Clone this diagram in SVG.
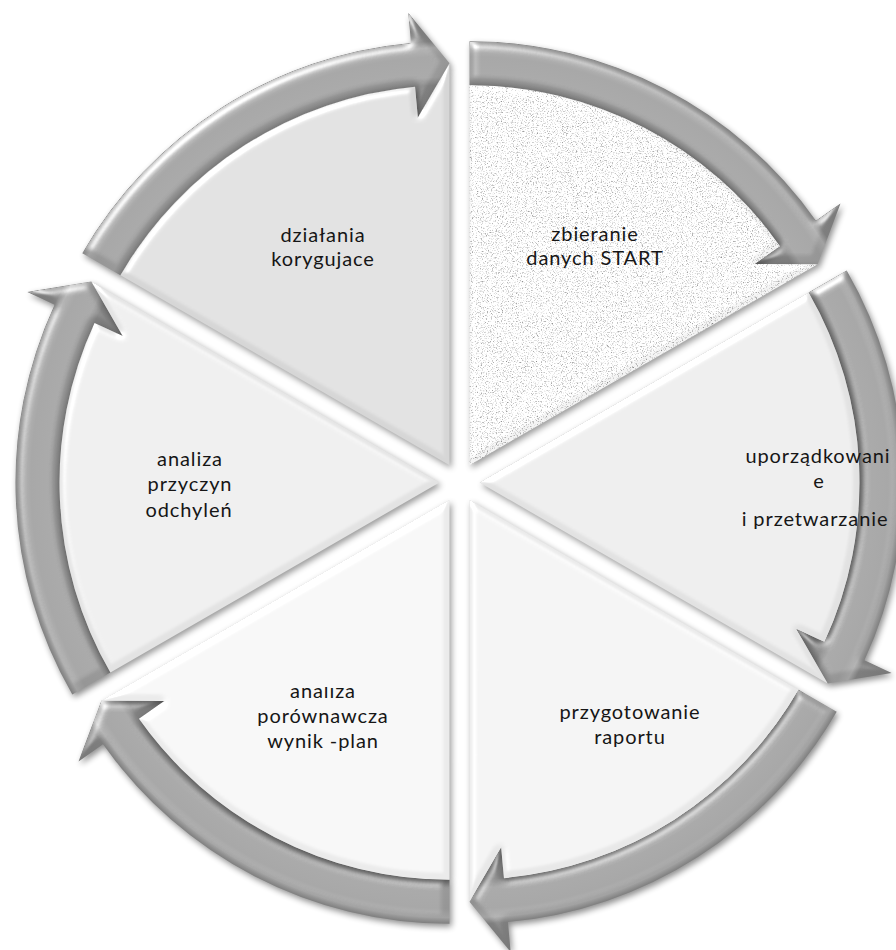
<svg xmlns="http://www.w3.org/2000/svg" xmlns:xlink="http://www.w3.org/1999/xlink" width="896" height="950" viewBox="0 0 896 950">
<style>
.t{font-family:Lato,"Liberation Sans",sans-serif;font-size:20px;letter-spacing:0.9px;fill:#161616;text-anchor:middle}
</style>
<defs>
<path id="wedge" d="M0 0 L329.09 -190 A380 380 0 0 1 344.96 159.39 L316.82 146.39 L348.14 201 Z"/>
<path id="arrow" d="M329.09 -190 L367.19 -212 A424 424 0 0 1 384.90 177.85 L412.13 190.43 L348.14 201 L316.82 146.39 L344.96 159.39 A380 380 0 0 0 329.09 -190 Z"/>
<radialGradient id="ag" gradientUnits="userSpaceOnUse" cx="0" cy="0" r="454">
<stop offset="0.76" stop-color="#7c7c7c"/>
<stop offset="0.837" stop-color="#7e7e7e"/>
<stop offset="0.855" stop-color="#999999"/>
<stop offset="0.9" stop-color="#969696"/>
<stop offset="0.92" stop-color="#a2a2a2"/>
<stop offset="0.934" stop-color="#7e7e7e"/>
<stop offset="1" stop-color="#787878"/>
</radialGradient>
<filter id="afx" x="-20%" y="-20%" width="140%" height="140%" color-interpolation-filters="sRGB">
<feGaussianBlur in="SourceAlpha" stdDeviation="4" result="blur"/>
<feSpecularLighting in="blur" surfaceScale="4" specularConstant="0.7" specularExponent="18" lighting-color="#ffffff" result="spec">
<feDistantLight azimuth="235" elevation="40"/>
</feSpecularLighting>
<feComposite in="spec" in2="SourceAlpha" operator="in" result="specIn"/>
<feComposite in="SourceGraphic" in2="specIn" operator="arithmetic" k1="0" k2="1" k3="0.6" k4="0" result="lit"/>
<feGaussianBlur in="SourceAlpha" stdDeviation="3" result="sb"/>
<feOffset in="sb" dx="2" dy="3" result="so"/>
<feComponentTransfer in="so" result="sh"><feFuncA type="linear" slope="0.45"/></feComponentTransfer>
<feMerge><feMergeNode in="sh"/><feMergeNode in="lit"/></feMerge>
</filter>
<filter id="wfx" x="-20%" y="-20%" width="140%" height="140%" color-interpolation-filters="sRGB">
<feGaussianBlur in="SourceAlpha" stdDeviation="3" result="blur"/>
<feSpecularLighting in="blur" surfaceScale="3" specularConstant="0.5" specularExponent="20" lighting-color="#ffffff" result="spec">
<feDistantLight azimuth="235" elevation="45"/>
</feSpecularLighting>
<feComposite in="spec" in2="SourceAlpha" operator="in" result="specIn"/>
<feComposite in="SourceGraphic" in2="specIn" operator="arithmetic" k1="0" k2="1" k3="0.5" k4="0" result="lit"/>
<feGaussianBlur in="SourceAlpha" stdDeviation="3" result="sb"/>
<feOffset in="sb" dx="2" dy="3" result="so"/>
<feComponentTransfer in="so" result="sh"><feFuncA type="linear" slope="0.4"/></feComponentTransfer>
<feMerge><feMergeNode in="sh"/><feMergeNode in="lit"/></feMerge>
</filter>
<filter id="granite" x="0" y="0" width="1" height="1" color-interpolation-filters="sRGB">
<feTurbulence type="fractalNoise" baseFrequency="0.8" numOctaves="3" seed="7" result="noise"/>
<feColorMatrix in="noise" type="matrix" values="0 0 0 0 0.5  0 0 0 0 0.5  0 0 0 0 0.5  2.6 0 0 0 -1.36" result="spk"/>
<feComposite in="spk" in2="SourceGraphic" operator="in" result="spkIn"/>
<feMerge><feMergeNode in="SourceGraphic"/><feMergeNode in="spkIn"/></feMerge>
</filter>
<clipPath id="cut"><rect x="250" y="687" width="150" height="80"/></clipPath>
</defs>
<rect width="896" height="950" fill="#ffffff"/>

<g id="connectors">
<g filter="url(#afx)"><use href="#arrow" transform="translate(469.5 465.18) rotate(-60)" fill="url(#ag)"/></g>
<g filter="url(#afx)"><use href="#arrow" transform="translate(479.5 482.5) rotate(0)" fill="url(#ag)"/></g>
<g filter="url(#afx)"><use href="#arrow" transform="translate(469.5 499.82) rotate(60)" fill="url(#ag)"/></g>
<g filter="url(#afx)"><use href="#arrow" transform="translate(449.5 499.82) rotate(120)" fill="url(#ag)"/></g>
<g filter="url(#afx)"><use href="#arrow" transform="translate(439.5 482.5) rotate(180)" fill="url(#ag)"/></g>
<g filter="url(#afx)"><use href="#arrow" transform="translate(449.5 465.18) rotate(-120)" fill="url(#ag)"/></g>
</g>

<g id="node-dzialania">
<g filter="url(#wfx)"><use href="#wedge" transform="translate(449.5 465.18) rotate(-120)" fill="#d6d6d6"/></g>
<text class="t" x="323" y="242">działania</text>
<text class="t" x="323" y="266">korygujace</text>
</g>
<g id="node-zbieranie">
<g filter="url(#wfx)"><g filter="url(#granite)"><use href="#wedge" transform="translate(469.5 465.18) rotate(-60)" fill="#f4f4f4"/></g></g>
<text class="t" x="595" y="241">zbieranie</text>
<text class="t" x="595" y="265">danych START</text>
</g>
<g id="node-uporzadkowanie">
<g filter="url(#wfx)"><use href="#wedge" transform="translate(479.5 482.5) rotate(0)" fill="#e2e2e2"/></g>
<text class="t" x="818" y="463">uporządkowani</text>
<text class="t" x="819" y="488">e</text>
<text class="t" x="815" y="526">i przetwarzanie</text>
</g>
<g id="node-przygotowanie">
<g filter="url(#wfx)"><use href="#wedge" transform="translate(469.5 499.82) rotate(60)" fill="#e8e8e8"/></g>
<text class="t" x="630" y="719">przygotowanie</text>
<text class="t" x="630" y="744">raportu</text>
</g>
<g id="node-porownawcza">
<g filter="url(#wfx)"><use href="#wedge" transform="translate(449.5 499.82) rotate(120)" fill="#ebebeb"/></g>
<text class="t" x="323" y="698" clip-path="url(#cut)">analiza</text>
<text class="t" x="323" y="723">porównawcza</text>
<text class="t" x="323" y="748">wynik -plan</text>
</g>
<g id="node-przyczyn">
<g filter="url(#wfx)"><use href="#wedge" transform="translate(439.5 482.5) rotate(180)" fill="#e3e3e3"/></g>
<text class="t" x="190" y="466">analiza</text>
<text class="t" x="190" y="491">przyczyn</text>
<text class="t" x="189" y="517">odchyleń</text>
</g>
</svg>
